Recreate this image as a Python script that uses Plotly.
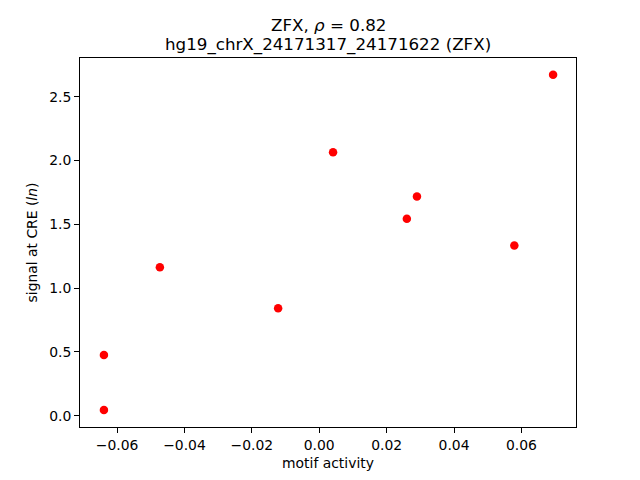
import plotly.graph_objects as go

motif_activity = [-0.0639, -0.0639, -0.0473, -0.0122, 0.0041, 0.0260, 0.0290, 0.0579, 0.0694]
signal = [0.045, 0.476, 1.163, 0.841, 2.064, 1.543, 1.718, 1.334, 2.672]

x_ticks = [-0.06, -0.04, -0.02, 0.00, 0.02, 0.04, 0.06]
y_ticks = [0.0, 0.5, 1.0, 1.5, 2.0, 2.5]

title_line1 = "ZFX, <i>ρ</i> = 0.82"
title_line2 = "hg19_chrX_24171317_24171622 (ZFX)"

FONT = "DejaVu Sans"
# page body has an 8px margin, so the figure starts at (8, 8)
OFF = 8
W, H = 640 - OFF, 480 - OFF
L, R, T, B = 80 - OFF, 64, 57.6 - OFF, 52.8
PH = H - T - B

fig = go.Figure()
fig.add_trace(go.Scatter(
    x=motif_activity, y=signal, mode="markers",
    marker=dict(color="#ff0000", size=8.5, line=dict(width=0)),
    showlegend=False, hoverinfo="skip"))

axis_common = dict(
    showgrid=False, zeroline=False, showline=True, linecolor="black", linewidth=1.1,
    mirror=True, ticks="outside", ticklen=4.9, tickwidth=1.1, tickcolor="black",
    tickfont=dict(family=FONT, size=13.9, color="black"),
)

fig.update_layout(
    width=W, height=H,
    margin=dict(l=L, r=R, t=T, b=B, autoexpand=False),
    paper_bgcolor="white", plot_bgcolor="white",
    font=dict(family=FONT, color="black"),
    xaxis=dict(range=[-0.0710, 0.0762], tickvals=x_ticks, tickformat=".2f",
               title=dict(text="motif activity", font=dict(family=FONT, size=13.9), standoff=6),
               **axis_common),
    yaxis=dict(range=[-0.089, 2.803], tickvals=y_ticks, tickformat=".1f",
               title=dict(text="signal at CRE (<i>ln</i>)", font=dict(family=FONT, size=13.9), standoff=8),
               **axis_common),
    annotations=[
        dict(text=title_line1, xref="paper", yref="paper", x=0.5, y=1 + 33.5 / PH,
             xanchor="center", yanchor="middle", showarrow=False,
             font=dict(family=FONT, size=16.7, color="black")),
        dict(text=title_line2, xref="paper", yref="paper", x=0.5, y=1 + 13.5 / PH,
             xanchor="center", yanchor="middle", showarrow=False,
             font=dict(family=FONT, size=16.7, color="black")),
    ],
)

fig.write_html("out.html")
